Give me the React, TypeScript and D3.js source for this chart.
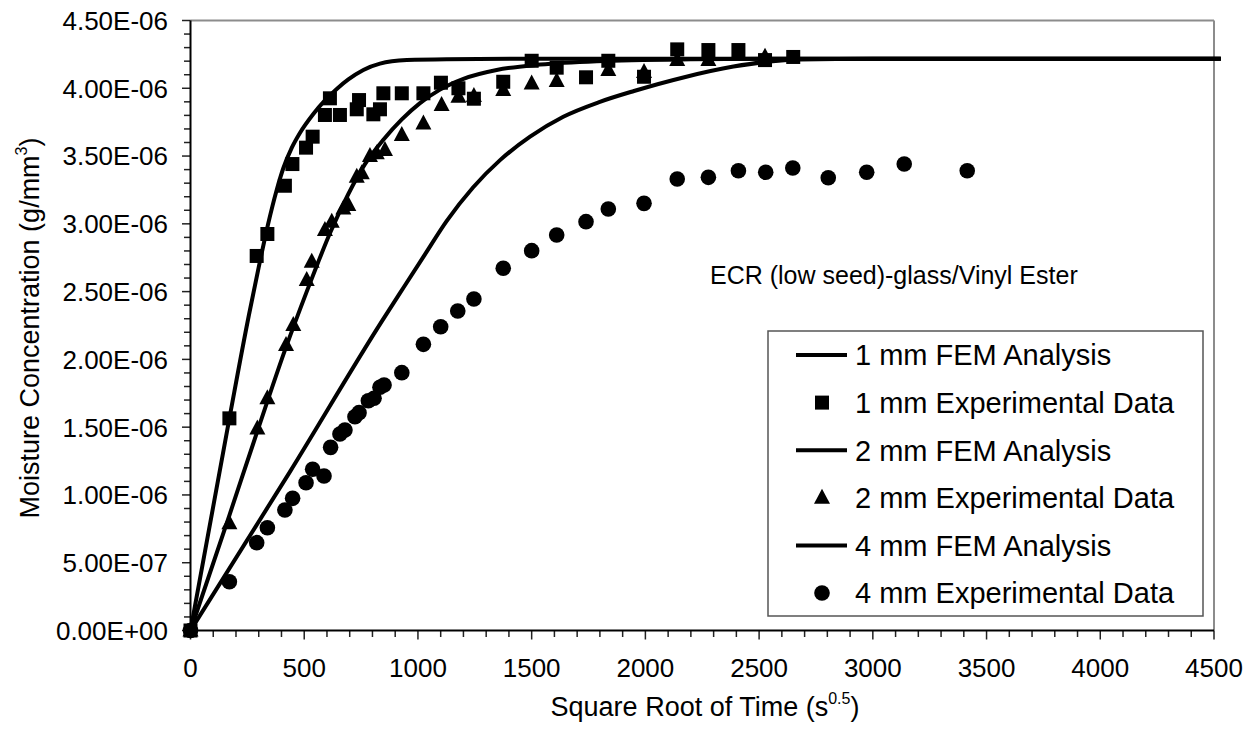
import React from "react";
import * as d3 from "d3";

// ---- Data (y values in units of 1E-06 g/mm^3) ----
const fem1X = [0, 171, 256, 300, 340, 379, 408, 445, 481, 540, 591, 643, 694, 760, 833, 951, 1126, 1500, 4530];
const fem1Y = [0, 1.565, 2.32, 2.68, 2.99, 3.25, 3.41, 3.56, 3.67, 3.81, 3.91, 3.995, 4.065, 4.135, 4.182, 4.208, 4.215, 4.218, 4.218];

const exp1X = [0, 171, 291, 338, 415, 448, 508, 537, 591, 613, 657, 731, 741, 804, 833, 848, 929, 1024, 1101, 1178, 1246, 1375, 1500, 1610, 1739, 1837, 1994, 2140, 2277, 2409, 2526, 2650];
const exp1Y = [0, 1.565, 2.763, 2.925, 3.281, 3.441, 3.562, 3.643, 3.803, 3.926, 3.803, 3.845, 3.913, 3.808, 3.845, 3.963, 3.963, 3.963, 4.041, 4.0, 3.923, 4.048, 4.203, 4.152, 4.081, 4.203, 4.085, 4.287, 4.282, 4.282, 4.208, 4.231];

const fem2X = [0, 171, 294, 420, 511, 562, 613, 694, 767, 848, 929, 1009, 1097, 1200, 1346, 1537, 1786, 2200, 2600, 4530];
const fem2Y = [0, 0.85, 1.47, 2.09, 2.5, 2.72, 2.93, 3.22, 3.44, 3.62, 3.77, 3.89, 3.99, 4.07, 4.135, 4.175, 4.2, 4.214, 4.218, 4.218];

const exp2X = [0, 171, 294, 338, 420, 452, 511, 533, 591, 621, 672, 694, 731, 753, 789, 819, 855, 929, 1024, 1104, 1178, 1246, 1375, 1500, 1610, 1837, 1994, 2140, 2277, 2526];
const exp2Y = [0, 0.791, 1.491, 1.713, 2.106, 2.254, 2.586, 2.721, 2.954, 3.016, 3.114, 3.139, 3.348, 3.373, 3.5, 3.52, 3.545, 3.655, 3.741, 3.877, 3.938, 3.943, 3.987, 4.036, 4.054, 4.135, 4.12, 4.208, 4.208, 4.233];

const fem3X = [0, 437, 841, 939, 1031, 1126, 1243, 1361, 1493, 1639, 1800, 1950, 2167, 2387, 2533, 2680, 3000, 4530];
const fem3Y = [0, 1.17, 2.28, 2.536, 2.775, 3.02, 3.27, 3.47, 3.643, 3.79, 3.9, 3.98, 4.08, 4.16, 4.195, 4.212, 4.218, 4.218];

const exp3X = [0, 171, 291, 338, 415, 449, 508, 537, 587, 616, 657, 679, 723, 741, 782, 807, 833, 851, 929, 1024, 1100, 1175, 1246, 1375, 1500, 1610, 1739, 1837, 1994, 2140, 2277, 2409, 2529, 2648, 2804, 2973, 3138, 3415];
const exp3Y = [0, 0.36, 0.648, 0.758, 0.889, 0.975, 1.09, 1.189, 1.14, 1.351, 1.45, 1.479, 1.577, 1.607, 1.695, 1.713, 1.794, 1.811, 1.902, 2.111, 2.241, 2.357, 2.445, 2.672, 2.802, 2.918, 3.016, 3.109, 3.151, 3.331, 3.343, 3.392, 3.38, 3.412, 3.34, 3.38, 3.441, 3.392];

const xTickValues = [0, 500, 1000, 1500, 2000, 2500, 3000, 3500, 4000, 4500];
const yTickValues = [0, 0.5, 1.0, 1.5, 2.0, 2.5, 3.0, 3.5, 4.0, 4.5];

const legendLabels = [
  "1 mm FEM Analysis",
  "1 mm Experimental Data",
  "2 mm FEM Analysis",
  "2 mm Experimental Data",
  "4 mm FEM Analysis",
  "4 mm Experimental Data",
];
const annotation = "ECR (low seed)-glass/Vinyl Ester";

// ---- Layout ----
const W = 1257;
const H = 740;
const L = 190.5, R = 1214, T = 20.5, B = 630.5;
const FONT = "'Liberation Sans', Arial, Helvetica, sans-serif";

function fmtSci(v: number): string {
  const val = v * 1e-6;
  if (val === 0) return "0.00E+00";
  const e = Math.floor(Math.log10(Math.abs(val)) + 1e-9);
  const m = val / Math.pow(10, e);
  const sign = e < 0 ? "-" : "+";
  const ae = Math.abs(e);
  return `${m.toFixed(2)}E${sign}${ae < 10 ? "0" + ae : ae}`;
}

type Shape = "square" | "triangle" | "circle";

function Marker({ shape, cx, cy }: { shape: Shape; cx: number; cy: number }) {
  if (shape === "square") {
    const s = 14;
    return <rect x={cx - s / 2} y={cy - s / 2} width={s} height={s} fill="#000" />;
  }
  if (shape === "triangle") {
    const w = 16, h = 15;
    const p = `${cx},${cy - h * 0.6} ${cx + w / 2},${cy + h * 0.4} ${cx - w / 2},${cy + h * 0.4}`;
    return <polygon points={p} fill="#000" />;
  }
  return <circle cx={cx} cy={cy} r={7.8} fill="#000" />;
}

export default function App() {
  const x = d3.scaleLinear().domain([0, 4500]).range([L, R]);
  const y = d3.scaleLinear().domain([0, 4.5]).range([B, T]);

  const line = d3
    .line<[number, number]>()
    .x((d) => x(d[0]))
    .y((d) => y(d[1]))
    .curve(d3.curveMonotoneX);

  const zip = (xs: number[], ys: number[]) => xs.map((v, i) => [v, ys[i]] as [number, number]);

  const fems = [zip(fem1X, fem1Y), zip(fem2X, fem2Y), zip(fem3X, fem3Y)];
  const exps: { pts: [number, number][]; shape: Shape }[] = [
    { pts: zip(exp1X, exp1Y), shape: "square" },
    { pts: zip(exp2X, exp2Y), shape: "triangle" },
    { pts: zip(exp3X, exp3Y), shape: "circle" },
  ];

  const xMinor = d3.range(0, 4501, 100);
  const yMinor = d3.range(0, 4.5001, 0.1);

  const legX = 768, legY = 331, legW = 435, legH = 285;
  const rowY = (i: number) => 355 + i * 47.6;

  return (
    <svg
      width={W}
      height={H}
      style={{ position: "absolute", left: 0, top: 0, background: "#fff" }}
      fontFamily={FONT}
    >
      <rect x={0} y={0} width={W} height={H} fill="#fff" />
      {/* plot border (top & right gray) */}
      <line x1={L} y1={T} x2={R} y2={T} stroke="#8c8c8c" strokeWidth={2} />
      <line x1={R} y1={T} x2={R} y2={B} stroke="#8c8c8c" strokeWidth={2} />

      {/* Y ticks */}
      {yMinor.map((v, i) => {
        const major = i % 5 === 0;
        return (
          <line key={"ym" + i} x1={major ? 182 : 184} x2={L} y1={y(v)} y2={y(v)} stroke="#222" strokeWidth={1.5} />
        );
      })}
      {/* X ticks */}
      {xMinor.map((v, i) => {
        const major = i % 5 === 0;
        return (
          <line key={"xm" + i} x1={x(v)} x2={x(v)} y1={B} y2={major ? 639.5 : 637} stroke="#222" strokeWidth={1.5} />
        );
      })}
      {/* axes */}
      <line x1={L} y1={T} x2={L} y2={B} stroke="#000" strokeWidth={2} />
      <line x1={L} y1={B} x2={R} y2={B} stroke="#000" strokeWidth={2} />

      {/* Y tick labels */}
      {yTickValues.map((v) => (
        <text key={"yl" + v} x={168} y={y(v)} dy="0.36em" textAnchor="end" fontSize={26} fill="#000">
          {fmtSci(v)}
        </text>
      ))}
      {/* X tick labels */}
      {xTickValues.map((v) => (
        <text key={"xl" + v} x={x(v)} y={676.5} textAnchor="middle" fontSize={26} fill="#000">
          {v}
        </text>
      ))}

      {/* axis titles */}
      <text x={705} y={716} textAnchor="middle" fontSize={27} fill="#000">
        Square Root of Time (s
        <tspan fontSize={16} dy={-12}>0.5</tspan>
        <tspan dy={12}>)</tspan>
      </text>
      <text transform="translate(39,328) rotate(-90)" textAnchor="middle" fontSize={27} fill="#000">
        Moisture Concentration (g/mm
        <tspan fontSize={16} dy={-12}>3</tspan>
        <tspan dy={12}>)</tspan>
      </text>

      {/* FEM lines */}
      {fems.map((pts, i) => (
        <path key={"fem" + i} d={line(pts) || ""} fill="none" stroke="#000" strokeWidth={4} strokeLinejoin="round" />
      ))}

      {/* experimental markers */}
      {exps.map((s, si) =>
        s.pts.map((p, i) => <Marker key={`m${si}-${i}`} shape={s.shape} cx={x(p[0])} cy={y(p[1])} />)
      )}

      {/* annotation */}
      <text x={710} y={284} fontSize={25} fill="#000">
        {annotation}
      </text>

      {/* legend */}
      <rect x={legX} y={legY} width={legW} height={legH} fill="#fff" stroke="#555" strokeWidth={1.5} />
      {legendLabels.map((lab, i) => {
        const cy = rowY(i);
        const isLine = i % 2 === 0;
        const shape: Shape = i === 1 ? "square" : i === 3 ? "triangle" : "circle";
        return (
          <g key={"leg" + i}>
            {isLine ? (
              <line x1={796} x2={847} y1={cy} y2={cy} stroke="#000" strokeWidth={4} />
            ) : (
              <Marker shape={shape} cx={822} cy={cy} />
            )}
            <text x={855} y={cy} dy="0.36em" fontSize={29} fill="#000">
              {lab}
            </text>
          </g>
        );
      })}
    </svg>
  );
}
